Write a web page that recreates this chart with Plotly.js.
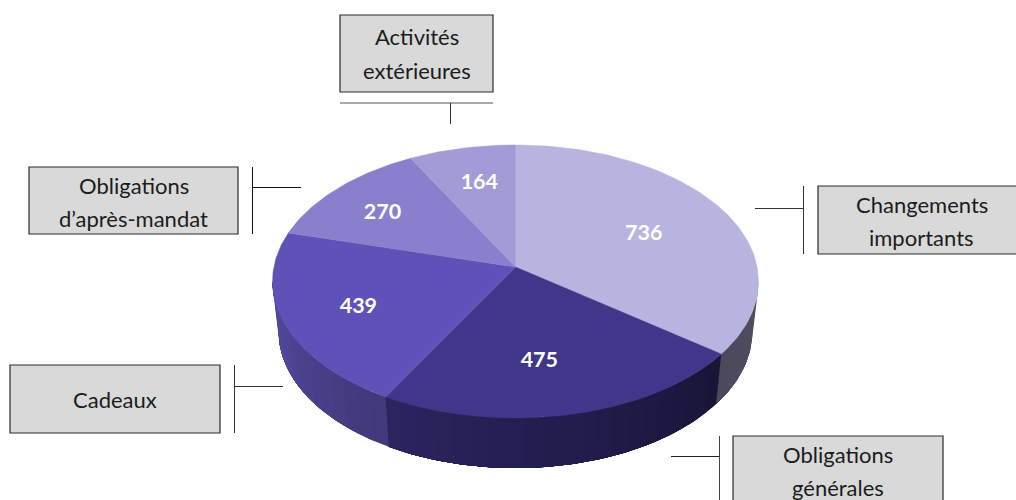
<!DOCTYPE html>
<html>
<head>
<meta charset="utf-8">
<script src="https://cdn.plot.ly/plotly-3.0.1.min.js"></script>
<style>html,body{margin:0;padding:0;background:#fff;overflow:hidden}#c{width:1016px;height:500px}</style>
</head>
<body>
<div id="c"></div>
<script>
// Data
var categories = ["Changements importants", "Obligations générales", "Cadeaux", "Obligations d’après-mandat", "Activités extérieures"];
var values = [736, 475, 439, 270, 164];

// Styles
var topColors = ["#b8b4e0", "#40378a", "#5e52b8", "#8880cc", "#a29bd6"];
var wallStart = ["#504d61", "#181538", "#3f3878", "#4a4590", "#4a4590"];
var wallEnd   = ["#4c495c", "#2b2460", "#544ba2", "#4a4590", "#4a4590"];
var labelRadius = [0.61, 0.636, 0.686, 0.725, 0.705];
var labelNudge  = [0, 3.5, 0, -1, 1.0];
var labelDrop = 3.5;

// Projection of the tilted disc (perspective)
var cx = 515.5, cy = 267, A = 241.6, B = 135, K = 0.106, DEPTH = 50, BOTTOM_SCALE = 0.975;
function proj(thetaDeg, r, dz, sx) {
  var t = thetaDeg * Math.PI / 180;
  var u = r * Math.sin(t), v = -r * Math.cos(t);
  var d = 1 - K * v;
  return [cx + (sx || 1) * A * u / d, cy + B * v / d + (dz || 0)];
}
function hex(c){return [parseInt(c.substr(1,2),16),parseInt(c.substr(3,2),16),parseInt(c.substr(5,2),16)];}
function mix(a,b,f){var x=hex(a),y=hex(b);return "rgb("+[0,1,2].map(function(i){return Math.round(x[i]+(y[i]-x[i])*f);}).join(",")+")";}

var total = values.reduce(function(s,v){return s+v;},0);
var traces = [], bounds = [0], acc = 0;
values.forEach(function(v){acc += v; bounds.push(acc/total*360);});

// Side walls, as overlapping strips painted in order so no seams show
var VIS0 = 96, VIS1 = 264, STEP = 4;
values.forEach(function(v,i){
  var a0 = Math.max(bounds[i], VIS0), a1 = Math.min(bounds[i+1], VIS1);
  if (a1 <= a0) return;
  var n = Math.max(1, Math.ceil((a1-a0)/STEP));
  for (var s=0; s<n; s++){
    var t0 = a0+(a1-a0)*s/n, t1 = a1;
    var tt=[], xs=[], ys=[], k, q;
    for (k=t0; k<t1; k+=1) tt.push(k);
    tt.push(t1);
    for (k=0;k<tt.length;k++){q=proj(tt[k],1,0,1);xs.push(q[0]);ys.push(q[1]);}
    for (k=tt.length-1;k>=0;k--){q=proj(tt[k],1,DEPTH,BOTTOM_SCALE);xs.push(q[0]);ys.push(q[1]);}
    xs.push(xs[0]);ys.push(ys[0]);
    var col = mix(wallStart[i],wallEnd[i],(s+0.5)/n);
    traces.push({type:"scatter",mode:"lines",fill:"toself",fillcolor:col,x:xs,y:ys,
      line:{color:col,width:0},hoverinfo:"skip",showlegend:false});
  }
});

// Top face
values.forEach(function(v,i){
  var xs=[cx], ys=[cy];
  for (var t=bounds[i]; t<bounds[i+1]; t+=1){var p=proj(t,1);xs.push(p[0]);ys.push(p[1]);}
  var e=proj(bounds[i+1],1);xs.push(e[0],cx);ys.push(e[1],cy);
  traces.push({type:"scatter",mode:"lines",fill:"toself",fillcolor:topColors[i],
    x:xs,y:ys,line:{color:topColors[i],width:0.5},name:categories[i],hoverinfo:"name",showlegend:false});
});

// Value labels
var lx=[],ly=[];
values.forEach(function(v,i){
  var p=proj((bounds[i]+bounds[i+1])/2+labelNudge[i],labelRadius[i]);lx.push(p[0]);ly.push(p[1]+labelDrop);
});
traces.push({type:"scatter",mode:"text",x:lx,y:ly,text:values.map(String),textposition:"middle center",
  textfont:{family:"Lato, Carlito, sans-serif",size:21.5,color:"#ffffff",weight:700},hoverinfo:"skip",showlegend:false});

// Callouts
var boxes = [
  {x0:340,x1:493,y0:15,y1:92, lines:[["Activités",36],["extérieures",70]], cx:416.5},
  {x0:29,x1:238,y0:167,y1:234, lines:[["Obligations",185],["d’après-mandat",218]], cx:133.5},
  {x0:818,x1:1026,y0:186,y1:254, lines:[["Changements",204],["importants",237]], cx:921.5},
  {x0:10,x1:220,y0:365,y1:433, lines:[["Cadeaux",399]], cx:115},
  {x0:733,x1:943,y0:436,y1:510, lines:[["Obligations",454],["générales",487]], cx:838}
];
var leaders = [
  [340,103,493,103,"#555555"],[450.5,103,450.5,124,"#333333"],
  [252.5,167,252.5,234,"#111111"],[252,187.5,301,187.5,"#111111"],
  [803.5,186,803.5,254,"#333333"],[755,208.5,803,208.5,"#333333"],
  [234.5,365,234.5,433,"#333333"],[234,386.5,283,386.5,"#333333"],
  [719.5,436,719.5,510,"#444444"],[671,456.5,719,456.5,"#222222"]
];
var shapes=[],annotations=[];
boxes.forEach(function(b){
  shapes.push({type:"rect",xref:"x",yref:"y",x0:b.x0,x1:b.x1,y0:b.y0,y1:b.y1,fillcolor:"#d9d9d9",line:{color:"#2a2a2a",width:1.2},layer:"above"});
  b.lines.forEach(function(l){
    annotations.push({x:b.cx,y:l[1],xref:"x",yref:"y",text:l[0],showarrow:false,xanchor:"center",yanchor:"middle",
      font:{family:"Lato, Carlito, sans-serif",size:22,color:"#1c1c1c"}});
  });
});
leaders.forEach(function(l){
  shapes.push({type:"line",xref:"x",yref:"y",x0:l[0],y0:l[1],x1:l[2],y1:l[3],line:{color:l[4],width:1},layer:"above"});
});

var layout = {
  width:1016,height:500,margin:{l:0,r:0,t:0,b:0},paper_bgcolor:"#ffffff",plot_bgcolor:"#ffffff",
  xaxis:{range:[0,1016],visible:false,fixedrange:true},
  yaxis:{range:[500,0],visible:false,fixedrange:true},
  showlegend:false,shapes:shapes,annotations:annotations
};
Plotly.newPlot("c",traces,layout,{displayModeBar:false,staticPlot:true});
</script>
</body>
</html>
